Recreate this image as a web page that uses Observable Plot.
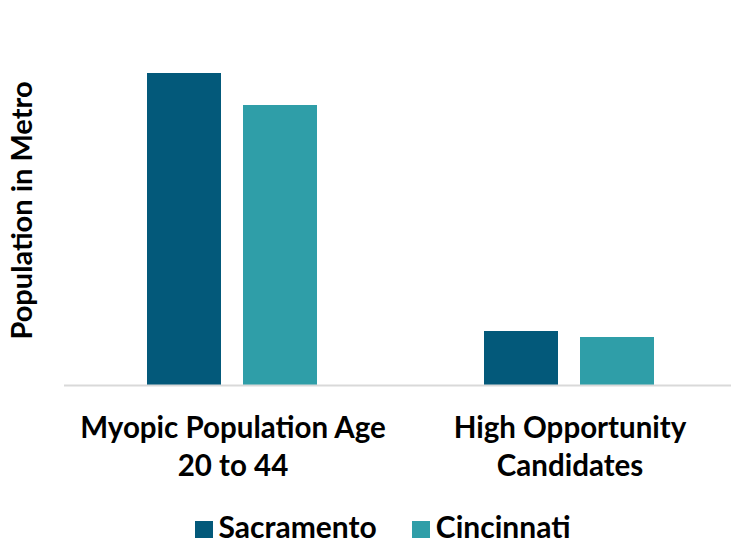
<!DOCTYPE html>
<html><head><meta charset="utf-8">
<script src="https://cdn.jsdelivr.net/npm/d3@7"></script>
<script src="https://cdn.jsdelivr.net/npm/@observablehq/plot@0.6"></script>
<style>
body{margin:0;background:#fff;font-family:Lato,"Open Sans",sans-serif;overflow:hidden;}
#chart svg{display:block;}
#legend{display:flex;justify-content:center;align-items:center;gap:35px;height:30px;line-height:1;margin-top:1px;font-weight:bold;font-size:30px;color:#000;padding-left:34px;}
#legend .item{display:flex;align-items:center;gap:6px;}
#legend .sw{width:18px;height:17px;display:inline-block;position:relative;top:3px;}
</style></head><body>
<div id="chart"></div>
<div id="legend"></div>
<script>
const groups = ["Myopic Population Age\n20 to 44", "High Opportunity\nCandidates"];
const series = ["Sacramento", "Cincinnati"];
const sacramento = [312, 54];
const cincinnati = [280, 48];
const colors = ["#03597a", "#2f9ea8"];
const yLabel = "Population in Metro";

const data = groups.flatMap((g, i) => [
  {group: g, series: series[0], value: sacramento[i]},
  {group: g, series: series[1], value: cincinnati[i]}
]);

const plot = Plot.plot({
  width: 731, height: 510,
  marginLeft: 63, marginRight: 3, marginTop: 73, marginBottom: 125,
  style: {fontFamily: "Lato, 'Open Sans', sans-serif", background: "#fff"},
  fx: {domain: groups, range: [63.25, 738.25], padding: 0},
  x: {domain: series, paddingInner: 0.227, paddingOuter: 0.853, axis: null},
  y: {domain: [0, 312], axis: null},
  color: {domain: series, range: colors},
  marks: [
    Plot.barY(data, {fx: "group", x: "series", y: "value", fill: "series"}),
    Plot.ruleY([0], {stroke: "#d9d9d9", strokeWidth: 2}),
    Plot.axisFx({anchor: "bottom", tickSize: 0, tickPadding: 25, fontSize: 29.5, fontWeight: "bold", lineHeight: 1.29, label: null, fill: "#000"}),
    Plot.text([yLabel], {fx: () => groups[0], frameAnchor: "left", textAnchor: "middle", rotate: -90, dx: -42, dy: -19, fontSize: 29, fontWeight: "bold", fill: "#000", text: d => d})
  ]
});
document.getElementById("chart").append(plot);

const legend = document.getElementById("legend");
series.forEach((s, i) => {
  const item = document.createElement("div");
  item.className = "item";
  const sw = document.createElement("span");
  sw.className = "sw";
  sw.style.background = colors[i];
  const t = document.createElement("span");
  t.textContent = s;
  item.append(sw, t);
  legend.append(item);
});
</script>
</body></html>
